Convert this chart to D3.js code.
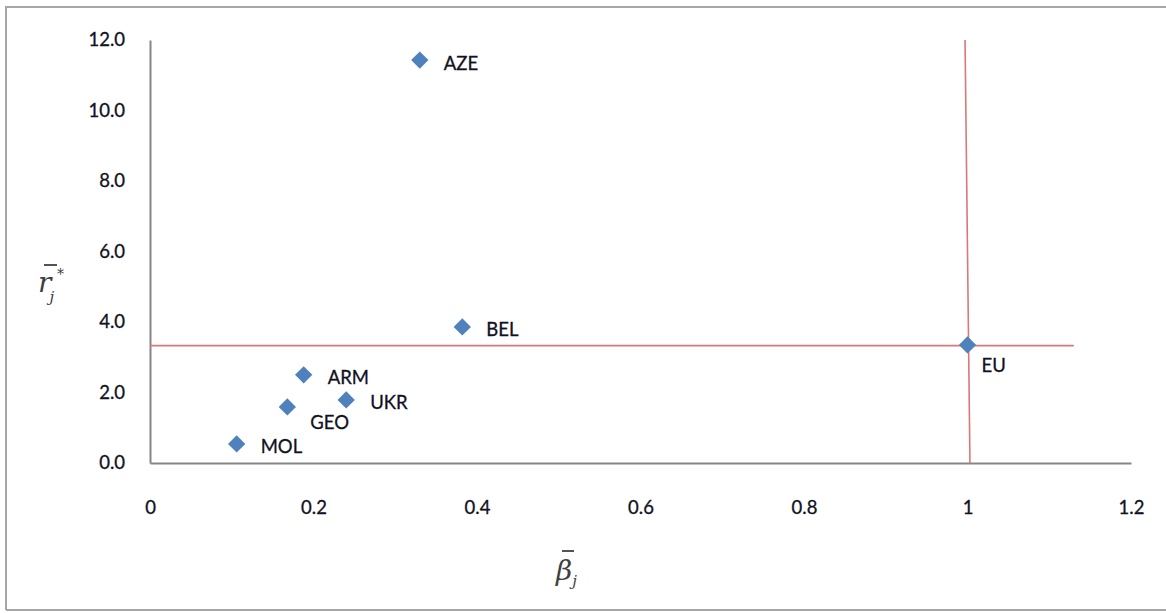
<!DOCTYPE html>
<html><head><meta charset="utf-8">
<script src="https://cdn.jsdelivr.net/npm/d3@7"></script>
<style>body{margin:0;background:#fff}svg{display:block}</style>
</head><body>
<script>
const countries = ["AZE","BEL","ARM","UKR","GEO","MOL","EU"];
const betaValues = [0.330,0.382,0.188,0.240,0.168,0.106,1.0];
const rValues = [11.43,3.86,2.50,1.79,1.59,0.54,3.35];
const labelPlacement = ["right","right","right","right","below","right","under"];
const xTicks = [0,0.2,0.4,0.6,0.8,1,1.2];
const yTicks = [0,2,4,6,8,10,12];
const hLine = [[0,3.33],[1.13,3.33]];
const vLine = [[0.997,12],[1.003,0]];

const W=1166,H=613;
const svg=d3.select("body").append("svg").attr("width",W).attr("height",H);
const font="Lato, 'Open Sans', sans-serif";
const txtCol="#111122";
// frame
svg.append("path").attr("d","M6,610 V7 H1166").attr("fill","none").attr("stroke","#a6a6a6").attr("stroke-width",2);
svg.append("line").attr("x1",6).attr("x2",1166).attr("y1",610).attr("y2",610).attr("stroke","#a6a6a6").attr("stroke-width",2);

const x=d3.scaleLinear().domain([0,1.2]).range([150,1131]);
const y=d3.scaleLinear().domain([0,12]).range([463,40]);

const xAxis=svg.append("g").attr("transform","translate(0,463)")
 .call(d3.axisBottom(x).tickValues(xTicks).tickSize(0).tickPadding(38).tickFormat(d=>String(d)));
const yAxis=svg.append("g").attr("transform","translate(150,0)")
 .call(d3.axisLeft(y).tickValues(yTicks).tickSize(0).tickPadding(25).tickFormat(d3.format(".1f")));
[xAxis,yAxis].forEach(g=>{
  g.select(".domain").attr("stroke","#868686").attr("stroke-width",2);
  g.selectAll("text").attr("font-family",font).attr("font-size",18.5).attr("fill",txtCol)
   .attr("stroke",txtCol).attr("stroke-width",0.3);
});

const line=d3.line().x(d=>x(d[0])).y(d=>y(d[1]));
[hLine,vLine].forEach(l=>svg.append("path").attr("d",line(l)).attr("fill","none").attr("stroke","#d9787a").attr("stroke-width",1.6));

const data=countries.map((c,i)=>({c,b:betaValues[i],r:rValues[i],p:labelPlacement[i]}));
svg.selectAll("path.pt").data(data).join("path").attr("class","pt")
 .attr("d",d3.symbol().type(d3.symbolSquare).size(150))
 .attr("transform",d=>`translate(${x(d.b)},${y(d.r)}) rotate(45)`)
 .attr("fill","#4f81bd");
const off={right:[24,3],below:[23,16],under:[14,21]};
svg.selectAll("text.lbl").data(data).join("text").attr("class","lbl")
 .attr("x",d=>x(d.b)+off[d.p][0])
 .attr("y",d=>y(d.r)+off[d.p][1])
 .attr("dy","0.35em")
 .attr("font-family",font).attr("font-size",18.5).attr("fill",txtCol)
 .attr("stroke",txtCol).attr("stroke-width",0.3)
 .text(d=>d.c);

// axis titles
const serif="'DejaVu Serif', serif";
const yt=svg.append("text").attr("x",38).attr("y",292).attr("font-family",serif).attr("font-style","italic").attr("font-size",28).attr("fill","#404040");
yt.append("tspan").text("r");
yt.append("tspan").attr("font-size",15).attr("dx",-2).attr("dy",10).text("j");
svg.append("line").attr("x1",44).attr("x2",57).attr("y1",265).attr("y2",265).attr("stroke","#404040").attr("stroke-width",1.8);
svg.append("text").attr("x",57).attr("y",279).attr("font-family",serif).attr("font-size",14).attr("fill","#404040").text("*");
const xt=svg.append("text").attr("x",556).attr("y",580).attr("font-family",serif).attr("font-style","italic").attr("font-size",28).attr("fill","#404040");
xt.append("tspan").text("\u03B2");
xt.append("tspan").attr("font-size",15).attr("dy",6).text("j");
svg.append("line").attr("x1",562).attr("x2",574).attr("y1",551).attr("y2",551).attr("stroke","#404040").attr("stroke-width",1.8);
</script>
</body></html>
